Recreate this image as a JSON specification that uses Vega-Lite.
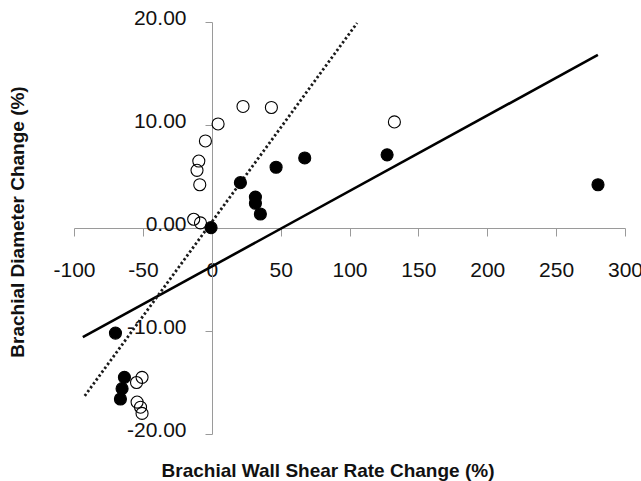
{
  "$schema": "https://vega.github.io/schema/vega-lite/v6.json",
  "width": 551,
  "height": 412,
  "autosize": {"type": "none"},
  "padding": {"left": 74, "top": 22, "right": 16, "bottom": 47},
  "background": "white",
  "config": {
    "view": {"stroke": null},
    "font": "Liberation Sans",
    "axis": {
      "grid": false,
      "labelFlush": false,
      "labelOverlap": false,
      "labelBound": false,
      "domainColor": "#9a9a9a",
      "tickColor": "#9a9a9a",
      "domainWidth": 1,
      "tickWidth": 1,
      "labelFont": "Liberation Sans",
      "labelFontSize": 21,
      "labelColor": "#111111",
      "titleFont": "Liberation Sans",
      "titleFontSize": 19,
      "titleFontWeight": "bold",
      "titleColor": "#111111"
    }
  },
  "datasets": {
    "points": [
      {"x": 22.7, "y": 11.8, "group": "open"},
      {"x": 43.3, "y": 11.7, "group": "open"},
      {"x": 4.6, "y": 10.1, "group": "open"},
      {"x": -4.6, "y": 8.45, "group": "open"},
      {"x": -9.4, "y": 6.5, "group": "open"},
      {"x": -10.7, "y": 5.6, "group": "open"},
      {"x": -8.7, "y": 4.2, "group": "open"},
      {"x": -13.1, "y": 0.85, "group": "open"},
      {"x": -8.2, "y": 0.5, "group": "open"},
      {"x": 132.6, "y": 10.3, "group": "open"},
      {"x": -50.6, "y": -14.5, "group": "open"},
      {"x": -54.6, "y": -15.0, "group": "open"},
      {"x": -54.2, "y": -16.9, "group": "open"},
      {"x": -51.7, "y": -17.4, "group": "open"},
      {"x": -50.6, "y": -18.0, "group": "open"},
      {"x": -0.5, "y": 0.03, "group": "filled"},
      {"x": 20.8, "y": 4.4, "group": "filled"},
      {"x": 46.7, "y": 5.9, "group": "filled"},
      {"x": 67.5, "y": 6.8, "group": "filled"},
      {"x": 31.7, "y": 3.0, "group": "filled"},
      {"x": 31.7, "y": 2.4, "group": "filled"},
      {"x": 35.3, "y": 1.36, "group": "filled"},
      {"x": 127.3, "y": 7.1, "group": "filled"},
      {"x": 280.4, "y": 4.2, "group": "filled"},
      {"x": -69.9, "y": -10.2, "group": "filled"},
      {"x": -63.4, "y": -14.5, "group": "filled"},
      {"x": -65.1, "y": -15.6, "group": "filled"},
      {"x": -66.3, "y": -16.6, "group": "filled"}
    ],
    "lines": [
      {"x": -93.6, "y": -10.6, "fit": "solid"},
      {"x": 280.3, "y": 16.8, "fit": "solid"},
      {"x": -92.2, "y": -16.3, "fit": "dotted"},
      {"x": 105.5, "y": 19.9, "fit": "dotted"}
    ]
  },
  "layer": [
    {
      "data": {"name": "lines"},
      "transform": [{"filter": "datum.fit === 'solid'"}],
      "mark": {"type": "line", "color": "#000000", "strokeWidth": 2.6},
      "encoding": {
        "x": {"field": "x", "type": "quantitative", "scale": {"domain": [-100, 300], "nice": false, "zero": false},
          "axis": {"values": [-100, -50, 0, 50, 100, 150, 200, 250, 300], "labelExpr": "toString(datum.value)", "offset": -206, "tickSize": 8, "labelPadding": 23, "labelBaseline": "top", "title": "Brachial Wall Shear Rate Change (%)", "titleX": 253.5, "titleY": 242, "titleBaseline": "middle", "titleAnchor": null, "titleAlign": "center"}},
        "y": {"field": "y", "type": "quantitative", "scale": {"domain": [-20, 20], "nice": false, "zero": false},
          "axis": {"values": [-20, -10, 0, 10, 20], "labelExpr": "datum.value < 0 ? '-' + format(-datum.value, '.2f') : format(datum.value, '.2f')", "offset": -138, "tickSize": 7, "labelPadding": 19, "labelOffset": -4, "labelBaseline": "middle", "title": "Brachial Diameter Change (%)", "titleX": -195, "titleY": 199.5, "titleAngle": 270, "titleBaseline": "middle", "titleAlign": "center", "titleAnchor": null}}
      }
    },
    {
      "data": {"name": "lines"},
      "transform": [{"filter": "datum.fit === 'dotted'"}],
      "mark": {"type": "line", "color": "#1a1a1a", "strokeWidth": 2.8, "strokeDash": [2.4, 2.4]},
      "encoding": {
        "x": {"field": "x", "type": "quantitative"},
        "y": {"field": "y", "type": "quantitative"}
      }
    },
    {
      "data": {"name": "points"},
      "mark": {"type": "point", "shape": "circle", "size": 145, "stroke": "#000000", "strokeWidth": 1.1, "fill": "#000000", "opacity": 1},
      "encoding": {
        "x": {"field": "x", "type": "quantitative"},
        "y": {"field": "y", "type": "quantitative"},
        "fillOpacity": {"field": "group", "type": "nominal", "scale": {"domain": ["filled", "open"], "range": [1, 0]}, "legend": null}
      }
    }
  ]
}
